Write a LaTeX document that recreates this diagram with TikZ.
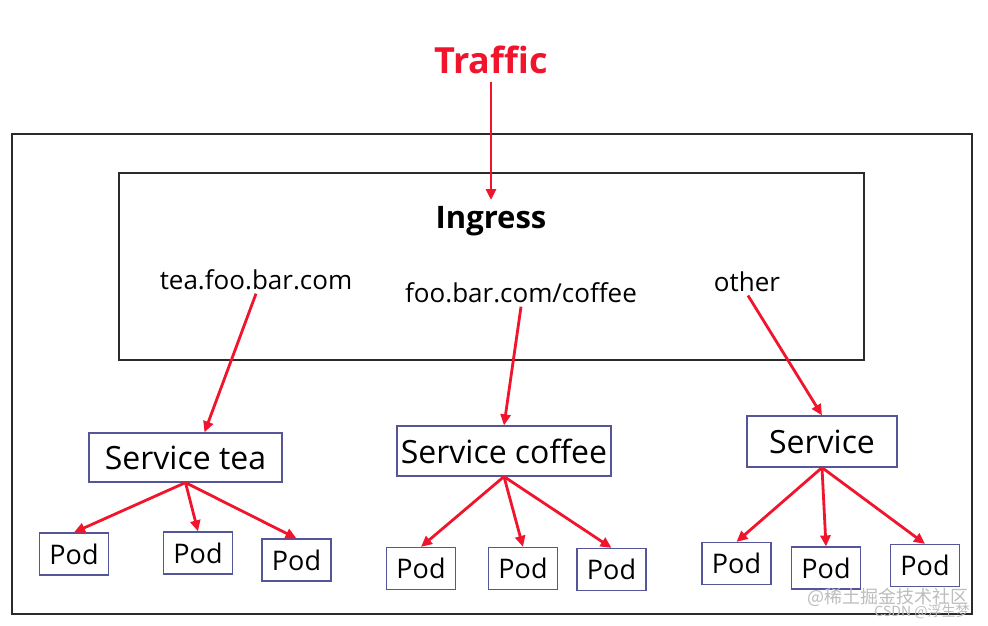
\documentclass[tikz,border=0pt]{standalone}
\usepackage{fontspec}
\setmainfont{Open Sans}
\newfontfamily\cjkfont{Noto Sans CJK SC}
\usetikzlibrary{arrows.meta}
\definecolor{FlowRed}{HTML}{F0142D}
\definecolor{BoxBlue}{HTML}{55559A}
\definecolor{FrameGray}{HTML}{2B2B2B}
\definecolor{MarkGray}{HTML}{BDBDBD}

\begin{document}
\begin{tikzpicture}[x=1pt,y=-1pt,
  frame/.style={draw=FrameGray,line width=1.6pt},
  svcbox/.style={draw=BoxBlue,line width=1.2pt,inner sep=0pt,font=\fontsize{32}{32}\selectfont},
  podbox/.style={draw=BoxBlue,line width=1.2pt,minimum width=69pt,minimum height=42pt,inner sep=0pt,font=\fontsize{27}{27}\selectfont},
  hostlbl/.style={font=\fontsize{26}{26}\selectfont},
  flow/.style={draw=FlowRed,line width=2.8pt,-{Triangle[length=11pt,width=10pt]}}
]
\useasboundingbox[fill=white] (0,0) rectangle (988,626);

% frames
\draw[frame] (12,134) rectangle (972,614);
\draw[frame] (119,173) rectangle (864,360);

\node[font=\bfseries\fontsize{36}{36}\selectfont,text=FlowRed] (traffic) at (491,60) {Traffic};
\node[font=\bfseries\fontsize{31}{31}\selectfont,inner sep=6pt] (ingress) at (491,221) {Ingress};

\node[hostlbl] (teahost) at (256,280) {tea.foo.bar.com};
\node[hostlbl] (coffeehost) at (521,293) {foo.bar.com/coffee};
\node[hostlbl] (otherhost) at (747,282) {other};

% services
\node[svcbox,minimum width=193pt,minimum height=49pt] (svctea) at (185.5,457.5) {Service tea};
\node[svcbox,minimum width=214pt,minimum height=50pt] (svccoffee) at (504,451) {Service coffee};
\node[svcbox,minimum width=150pt,minimum height=51pt] (svcother) at (822,441.5) {Service};

% pods
\node[podbox] (teapod1) at (74,554) {Pod};
\node[podbox] (teapod2) at (198,553) {Pod};
\node[podbox] (teapod3) at (296.5,560) {Pod};
\node[podbox] (coffeepod1) at (421,568.5) {Pod};
\node[podbox] (coffeepod2) at (523,568.5) {Pod};
\node[podbox] (coffeepod3) at (611.5,569.5) {Pod};
\node[podbox] (otherpod1) at (736.5,563.5) {Pod};
\node[podbox] (otherpod2) at (826,568) {Pod};
\node[podbox] (otherpod3) at (925,565.5) {Pod};

% arrows
\draw[flow,shorten <=5pt] (traffic.south) -- (ingress.north);
\draw[flow] (teahost.south) -- ([xshift=19pt]svctea.north);
\draw[flow] (coffeehost.south) -- (svccoffee.north);
\draw[flow] ([xshift=1pt]otherhost.south) -- (svcother.north);
\foreach \p in {teapod1,teapod2,teapod3}
  \draw[flow] (svctea.south) -- (\p.north);
\foreach \p in {coffeepod1,coffeepod2,coffeepod3}
  \draw[flow] (svccoffee.south) -- (\p.north);
\foreach \p in {otherpod1,otherpod2,otherpod3}
  \draw[flow] (svcother.south) -- (\p.north);

% watermark
\node[font=\cjkfont\fontsize{18}{18}\selectfont,text=MarkGray] (mark1) at (888,597) {@稀土掘金技术社区};
\node[font=\cjkfont\fontsize{14}{14}\selectfont,text=MarkGray] (mark2) at (922,612) {CSDN @浮生梦};
\end{tikzpicture}
\end{document}
